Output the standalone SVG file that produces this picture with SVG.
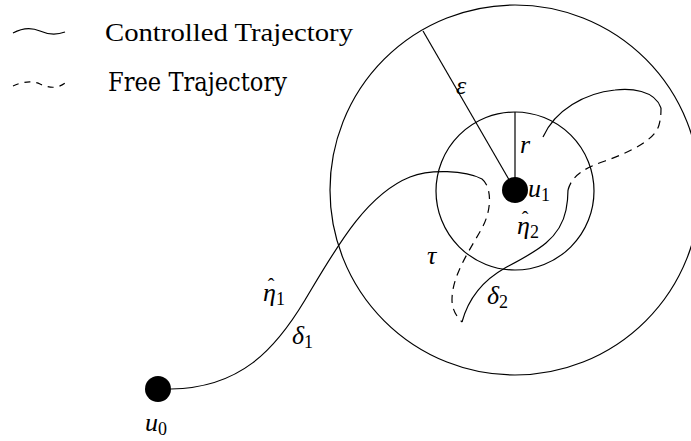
<svg xmlns="http://www.w3.org/2000/svg" width="691" height="441" viewBox="0 0 691 441">
<style>
.ln{fill:none;stroke:#000;stroke-width:1.2}
.ds{fill:none;stroke:#000;stroke-width:1.2;stroke-dasharray:8 6}
text{fill:#000}
.m{font-style:italic}
</style>
<rect width="691" height="441" fill="#fff"/>
<g id="legend">
<path class="ln" d="M13,33 C22,28 31,27 40,31 C49,35 57,35 65,32"/>
<path class="ln" style="stroke-dasharray:6 6" d="M13,86 C22,82 31,80 40,84 C49,88 57,89 65,83"/>
<text font-family="Liberation Serif, serif" font-size="26" x="105" y="41" textLength="248" lengthAdjust="spacingAndGlyphs">Controlled Trajectory</text>
<text font-family="DejaVu Serif, serif" font-size="26" x="108" y="91" textLength="179" lengthAdjust="spacingAndGlyphs">Free Trajectory</text>
</g>
<g id="regions">
<circle class="ln" cx="515" cy="190" r="185"/>
<circle class="ln" cx="515" cy="191" r="79"/>
<line class="ln" x1="515" y1="190" x2="423" y2="31"/>
<line class="ln" x1="515" y1="190" x2="515" y2="112"/>
</g>
<g id="connectors">
<path class="ln" d="M171,389 C240,388 275,350 305,300 C335,250 365,195 410,177 C430,169 465,170 482,179"/>
<path class="ds" d="M482,179 C492,187 492,210 482,228 C470,250 452,275 452,300 C452,310 457,317 462,322"/>
<path class="ln" d="M462,322 C468,300 480,282 505,268 C535,252 560,240 566,210 C568,200 568,195 568,190"/>
<path class="ds" d="M568,190 C572,175 585,168 605,161 C630,152 655,140 659,125 C661,118 661,112 661,108"/>
<path class="ln" d="M661,108 C655,90 630,88 615,90 C585,93 555,110 543,137"/>
</g>
<g id="u0" font-family="Liberation Serif, serif">
<circle cx="158" cy="389" r="13" fill="#000"/>
<text class="m" font-size="26" x="145" y="431">u<tspan font-size="18" font-style="normal" dy="4">0</tspan></text>
</g>
<g id="u1" font-family="Liberation Serif, serif">
<circle cx="515" cy="190" r="13" fill="#000"/>
<text class="m" font-size="26" x="528" y="197">u<tspan font-size="18" font-style="normal" dy="4">1</tspan></text>
</g>
<g id="labels" font-family="Liberation Serif, serif" font-size="26">
<text class="m" x="456" y="94">ε</text>
<text class="m" x="520" y="153">r</text>
<text class="m" x="517" y="234">η<tspan font-size="18" font-style="normal" dy="4">2</tspan></text>
<text x="525" y="226" font-size="20" text-anchor="middle">ˆ</text>
<text class="m" x="263" y="301">η<tspan font-size="18" font-style="normal" dy="4">1</tspan></text>
<text x="271" y="293" font-size="20" text-anchor="middle">ˆ</text>
<text class="m" x="292" y="344">δ<tspan font-size="18" font-style="normal" dy="4">1</tspan></text>
<text class="m" x="427" y="264">τ</text>
<text class="m" x="487" y="304">δ<tspan font-size="18" font-style="normal" dy="4">2</tspan></text>
</g>
</svg>
